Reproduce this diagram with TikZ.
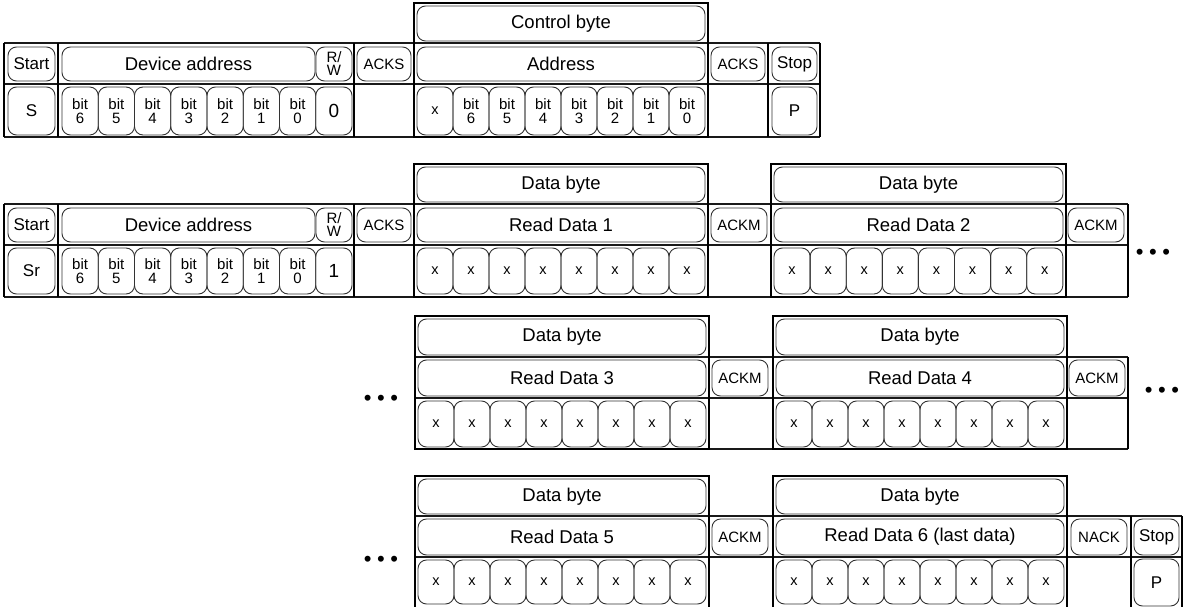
\documentclass[tikz,border=0pt]{standalone}
\usepackage{fontspec}
\setmainfont{Liberation Sans}
\newcommand\fsz[1]{\fontsize{#1}{#1}\selectfont}
\tikzset{
 rbox/.style={draw=black!80, line width=0.9pt, rounded corners=8.5pt, inner sep=0pt, align=center, font=\fsz{18.5}},
 sm/.style={font=\fsz{15}},
 ss/.style={font=\fsz{17}},
 bitbox/.style={font=\fontsize{15}{14.5}\selectfont},
 rwbox/.style={font=\fontsize{15}{13}\selectfont},
 xbox/.style={font=\fsz{14.5}},
 bigd/.style={font=\fsz{19}},
 frameline/.style={line width=1.8pt, black},
 gridline/.style={line width=1.3pt, black!90},
 dots/.style={font=\fsz{22}, inner sep=0pt},
}
\newcommand\bx[7][]{\node[rbox,#1,minimum width={(#5)-(#3)},minimum height={(#6)-(#4)}] (#2) at ({((#3)+(#5))/2},{((#4)+(#6))/2}) {#7};}
\begin{document}
\begin{tikzpicture}[x=1pt,y=-1pt]
\useasboundingbox (0,0) rectangle (1185,607);
% ---------------- Row 1 ----------------
\foreach \y in {43,84,137} \draw[gridline] (4,\y) -- (820,\y);
\foreach \x in {4,58,354,768,820} \draw[frameline] (\x,43) -- (\x,137);
\draw[frameline] (414,3) rectangle (708,137);
\bx{a1ctl}{417}{6}{705}{41}{Control byte}
\bx[ss]{a1start}{8}{47}{55}{81}{Start}
\bx{a1dev}{62}{47}{315}{81}{Device address}
\bx[rwbox]{a1rw}{316}{47}{352}{81}{R/\\W}
\bx[sm]{a1acks}{357}{47}{411}{81}{ACKS}
\bx{a1addr}{417}{47}{705}{81}{Address}
\bx[sm]{a1acks2}{711}{47}{765}{81}{ACKS}
\bx[ss]{a1stop}{772}{47}{817}{81}{Stop}
\bx[ss]{a1s}{8}{87}{55}{135}{S}
\foreach \i/\t in {0/6,1/5,2/4,3/3,4/2,5/1,6/0}
  {\bx[bitbox]{a1b\i}{62+36.25*\i}{87}{62+36.25*(\i+1)}{135}{bit\\\t}}
\bx[bigd]{a1rwv}{315.75}{87}{352}{135}{0}
\bx[xbox]{a1ax}{417}{87}{453}{135}{x}
\foreach \i/\t in {1/6,2/5,3/4,4/3,5/2,6/1,7/0}
  {\bx[bitbox]{a1ab\i}{417+36*\i}{87}{417+36*(\i+1)}{135}{bit\\\t}}
\bx[ss]{a1p}{772}{87}{817}{135}{P}
% ---------------- Row 2 ----------------
\foreach \y in {204,245,297} \draw[gridline] (4,\y) -- (1128,\y);
\foreach \x in {4,58,354,1128} \draw[frameline] (\x,204) -- (\x,297);
\draw[frameline] (414,164) rectangle (708,297);
\draw[frameline] (771,164) rectangle (1066,297);
\bx{a2db1}{417}{167}{705}{202}{Data byte}
\bx{a2db2}{774}{167}{1063}{202}{Data byte}
\bx[ss]{a2start}{8}{208}{55}{242}{Start}
\bx{a2dev}{62}{208}{315}{242}{Device address}
\bx[rwbox]{a2rw}{316}{208}{352}{242}{R/\\W}
\bx[sm]{a2acks}{357}{208}{411}{242}{ACKS}
\bx{a2rd1}{417}{208}{705}{242}{Read Data 1}
\bx[sm]{a2ackm1}{711}{208}{767}{242}{ACKM}
\bx{a2rd2}{774}{208}{1063}{242}{Read Data 2}
\bx[sm]{a2ackm2}{1068}{208}{1124}{242}{ACKM}
\bx[ss]{a2sr}{8}{248}{55}{294}{Sr}
\foreach \i/\t in {0/6,1/5,2/4,3/3,4/2,5/1,6/0}
  {\bx[bitbox]{a2b\i}{62+36.25*\i}{248}{62+36.25*(\i+1)}{294}{bit\\\t}}
\bx[bigd]{a2rwv}{315.75}{248}{352}{294}{1}
\foreach \i in {0,...,7}
  {\bx[xbox]{a2x\i}{417+36*\i}{248}{417+36*(\i+1)}{294}{x}
   \bx[xbox]{a2y\i}{774+36.1*\i}{248}{774+36.1*(\i+1)}{294}{x}}
\node[dots] (dots2) at (1153,254) {•\hspace{5.5pt}•\hspace{5.5pt}•};
% ---------------- Row 3 ----------------
\foreach \y in {357,398,449} \draw[gridline] (415,\y) -- (1128,\y);
\draw[frameline] (1128,357) -- (1128,449);
\draw[frameline] (415,316) rectangle (709,449);
\draw[frameline] (773,316) rectangle (1067,449);
\bx{a3db1}{418}{319}{706}{355}{Data byte}
\bx{a3db2}{776}{319}{1064}{355}{Data byte}
\bx{a3rd3}{418}{360}{706}{396}{Read Data 3}
\bx[sm]{a3ackm1}{712}{360}{768}{396}{ACKM}
\bx{a3rd4}{776}{360}{1064}{396}{Read Data 4}
\bx[sm]{a3ackm2}{1069}{360}{1125}{396}{ACKM}
\foreach \i in {0,...,7}
  {\bx[xbox]{a3x\i}{418+36*\i}{401}{418+36*(\i+1)}{447}{x}
   \bx[xbox]{a3y\i}{776+36*\i}{401}{776+36*(\i+1)}{447}{x}}
\node[dots] (dots3l) at (381,400) {•\hspace{5.5pt}•\hspace{5.5pt}•};
\node[dots] (dots3r) at (1162,392) {•\hspace{5.5pt}•\hspace{5.5pt}•};
% ---------------- Row 4 ----------------
\foreach \y in {516,557} \draw[gridline] (415,\y) -- (1182,\y);
\foreach \x in {1131,1182} \draw[frameline] (\x,516) -- (\x,615);
\draw[frameline] (415,615) -- (415,476) -- (709,476) -- (709,615);
\draw[frameline] (773,615) -- (773,476) -- (1067,476) -- (1067,615);
\bx{a4db1}{418}{479}{706}{514}{Data byte}
\bx{a4db2}{776}{479}{1064}{514}{Data byte}
\bx{a4rd5}{418}{519}{706}{555}{Read Data 5}
\bx[sm]{a4ackm}{712}{519}{768}{555}{ACKM}
\bx{a4rd6}{776}{519}{1064}{555}{Read Data 6 (last data)}
\bx[sm]{a4nack}{1071}{519}{1127}{555}{NACK}
\bx[ss]{a4stop}{1134}{519}{1179}{555}{Stop}
\foreach \i in {0,...,7}
  {\bx[xbox]{a4x\i}{418+36*\i}{560}{418+36*(\i+1)}{604}{x}
   \bx[xbox]{a4y\i}{776+36*\i}{560}{776+36*(\i+1)}{604}{x}}
\bx[ss]{a4p}{1134}{559}{1179}{606}{P}
\node[dots] (dots4) at (381,561) {•\hspace{5.5pt}•\hspace{5.5pt}•};
\end{tikzpicture}
\end{document}
